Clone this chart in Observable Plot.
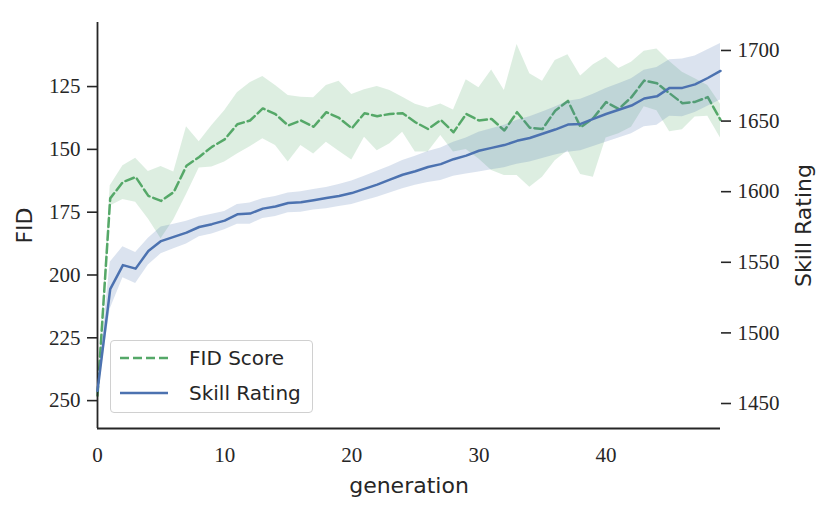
<!DOCTYPE html>
<html>
<head>
<meta charset="utf-8">
<script src="https://cdn.jsdelivr.net/npm/d3@7"></script>
<script src="https://cdn.jsdelivr.net/npm/@observablehq/plot@0.6"></script>
<style>
  html, body { margin: 0; padding: 0; background: white; overflow: hidden; }
  #wrap { position: relative; width: 830px; height: 512px; }
  #wrap > .layer { position: absolute; left: 0; top: 0; }
  #legend { position: absolute; left: 110px; top: 340px; width: 203px; height: 73px;
    box-sizing: border-box; border: 1px solid #d0d0d0; border-radius: 4px; background: rgba(255,255,255,0.85); }
</style>
</head>
<body>
<div id="wrap"></div>
<script>
const generation = [0,1,2,3,4,5,6,7,8,9,10,11,12,13,14,15,16,17,18,19,20,21,22,23,24,25,26,27,28,29,30,31,32,33,34,35,36,37,38,39,40,41,42,43,44,45,46,47,48,49];

const fidMean = [248,169.5,163,161,168.5,170.5,167,156.5,153,149,
  146,140,138.5,133.7,136,140.5,138.5,141,135.2,137.5,
  141.6,135.6,136.8,135.9,135.6,139.2,141.9,138.3,143.2,135.9,
  138.5,137.9,142.5,135.2,141.4,141.9,134.6,130.7,141.2,137.5,
  131.2,133.9,129.2,122.6,123.7,127.7,131.6,131.1,129.2,138.3];
const fidLo = [246,164.5,156.5,153.5,158.8,156.8,159,141,147,140.5,
  134.6,127.5,123.5,121,124.6,128.6,129.3,129.5,124.6,122.9,
  128.2,126.3,125,126.6,129.3,132,133.5,131.9,134.3,122.3,
  125.5,118.4,126.6,108.3,119.9,122.9,114.6,112.3,120.8,116.3,
  113.3,117.8,115.3,110.9,110,115,119.3,121.9,124.6,132];
const fidHi = [250,172.5,170,171,177.7,185.6,178,168,157.4,157,
  155,151.8,149,145.8,148.5,155,148.5,151.8,147.2,150.7,
  154.2,145.2,150.5,147.8,143.2,151,151,144.5,151,150,
  153.8,158.4,160.4,160.4,165.1,161.1,154.5,150.5,160,161.1,
  145.5,143.8,141.2,133,134.6,143,142.2,137.1,136.8,145.5];

const skillMean = [1459,1531,1548,1545.5,1558,1565,1568,1571,1575,1577,
  1579.5,1584,1584.5,1588,1589.5,1592,1592.5,1594,1595.5,1597,
  1599,1602,1605,1608.5,1612,1614.5,1617.5,1619.5,1623,1625.5,
  1629,1631,1633,1636,1638,1641,1644,1647.5,1648,1651.5,
  1655,1658,1661,1666,1667.5,1673.5,1673.5,1676,1680.5,1685.5];
const skillHi = [1462,1550,1561,1557,1567,1575,1577,1579,1582,1584,
  1586,1591,1592,1595,1596.5,1599,1600,1601.5,1603,1605,
  1607.5,1611,1614.5,1618,1622,1625,1628.5,1631,1635,1638,
  1642,1644.5,1647,1650.5,1653,1656.5,1660,1664,1665.5,1669,
  1673,1676.5,1680,1686,1688,1693.5,1694,1696,1700.5,1705];
const skillLo = [1456,1517,1539,1535,1548,1556,1559.5,1563,1568,1570,
  1573,1577,1577,1581,1582.5,1585,1585.5,1587,1588,1589.5,
  1591,1593.5,1596,1599,1602,1604.5,1606.5,1608,1611,1612.5,
  1614,1615.5,1617,1619.5,1621,1623.5,1626,1628,1629,1632,
  1635,1638,1641,1646,1647,1653.5,1653,1656,1660.5,1665];

const xTicks = [0,10,20,30,40];
const fidTicks = [125,150,175,200,225,250];
const skillTicks = [1450,1500,1550,1600,1650,1700];

const green = "#55A868", blue = "#4C72B0", ink = "#262626";
const data = generation.map((g, i) => ({
  generation: g, fid: fidMean[i], fidLo: fidLo[i], fidHi: fidHi[i],
  skill: skillMean[i], skillLo: skillLo[i], skillHi: skillHi[i]
}));

const common = { width: 830, height: 512, marginLeft: 97, marginRight: 110, marginTop: 22, marginBottom: 84 };
const serif = "'Liberation Serif', 'DejaVu Serif', serif";
const sans = "'DejaVu Sans', sans-serif";
const dash = "9,4";

const p1 = Plot.plot({
  ...common,
  style: { fontFamily: serif, fontSize: "21px", color: ink, background: "white", overflow: "visible" },
  x: { domain: [0, 49] },
  y: { domain: [99.5, 261.1], reverse: true },
  marks: [
    Plot.areaY(data, { x: "generation", y1: "fidLo", y2: "fidHi", fill: green, fillOpacity: 0.2 }),
    Plot.line(data, { x: "generation", y: "fid", stroke: green, strokeWidth: 2.5, strokeDasharray: dash }),
    Plot.axisY(fidTicks, { tickSize: 10, tickPadding: 7, label: null, stroke: ink, strokeWidth: 1.6, fill: ink, tickFormat: d3.format("d") }),
    Plot.axisX(xTicks, { tickSize: 0, tickPadding: 19, label: null, fill: ink, tickFormat: d3.format("d") }),
    Plot.ruleX([0], { stroke: ink, strokeWidth: 1.8 }),
    Plot.ruleY([261.1], { stroke: ink, strokeWidth: 1.8 }),
    Plot.text(["FID"], { frameAnchor: "left", textAnchor: "middle", dx: -73, rotate: -90, fontFamily: sans, fontSize: 22, fill: ink }),
    Plot.text(["generation"], { frameAnchor: "bottom", textAnchor: "middle", dy: 64, fontFamily: sans, fontSize: 22, fill: ink })
  ]
});

const p2 = Plot.plot({
  ...common,
  style: { fontFamily: serif, fontSize: "21px", color: ink, background: "transparent", overflow: "visible" },
  x: { domain: [0, 49], axis: null },
  y: { domain: [1432.3, 1719.8] },
  marks: [
    Plot.areaY(data, { x: "generation", y1: "skillLo", y2: "skillHi", fill: blue, fillOpacity: 0.2 }),
    Plot.line(data, { x: "generation", y: "skill", stroke: blue, strokeWidth: 2.5 }),
    Plot.axisY(skillTicks, { anchor: "right", tickSize: 10, tickPadding: 7, label: null, stroke: ink, strokeWidth: 1.6, fill: ink, tickFormat: d3.format("d") }),
    Plot.text(["Skill Rating"], { frameAnchor: "right", textAnchor: "middle", dx: 83, rotate: -90, fontFamily: sans, fontSize: 22, fill: ink })
  ]
});

const wrap = document.getElementById("wrap");
p1.classList.add("layer"); p2.classList.add("layer");
wrap.appendChild(p1);
wrap.appendChild(p2);

// legend
const legend = document.createElement("div");
legend.id = "legend";
const entries = [
  { label: "FID Score", color: green, dash: dash },
  { label: "Skill Rating", color: blue, dash: null }
];
const svg = d3.create("svg").attr("width", 203).attr("height", 73)
  .style("position", "absolute").style("left", "-1px").style("top", "-1px");
entries.forEach((e, i) => {
  const cy = 18 + i * 35;
  const ln = svg.append("line").attr("x1", 10).attr("x2", 58).attr("y1", cy).attr("y2", cy)
    .attr("stroke", e.color).attr("stroke-width", 2.5);
  if (e.dash) ln.attr("stroke-dasharray", e.dash);
  svg.append("text").attr("x", 79).attr("y", cy).attr("dy", "0.35em")
    .attr("font-family", sans).attr("font-size", 20).attr("fill", ink).text(e.label);
});
legend.appendChild(svg.node());
wrap.appendChild(legend);
</script>
</body>
</html>
